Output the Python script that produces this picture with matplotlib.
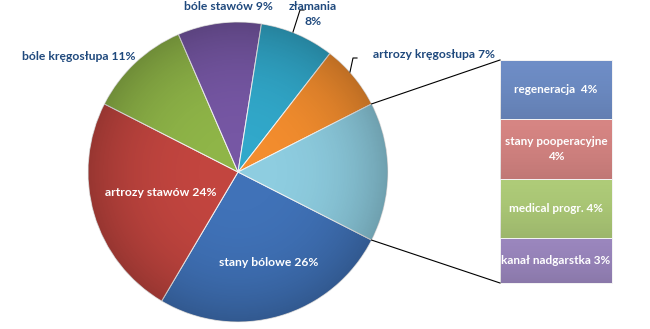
import numpy as np
import matplotlib
matplotlib.use("Agg")
import matplotlib.pyplot as plt
from matplotlib.patches import Circle

# main pie, clockwise from the "other" slice
pie_labels = ["stany bólowe", "artrozy stawów", "bóle kręgosłupa", "bóle stawów",
              "złamania", "artrozy kręgosłupa", "pozostałe"]
pie_values = [26, 24, 11, 9, 8, 7, 15]
pie_colors = ["#4072b8", "#c2453f", "#8fb548", "#7657a4", "#31a8ca", "#f38d2e", "#8ecde0"]

# breakdown bar, bottom to top
bar_labels = ["kanał nadgarstka 3%", "medical progr. 4%", "stany pooperacyjne\n4%", "regeneracja  4%"]
bar_values = [3, 4, 4, 4]
bar_colors = ["#9a86bd", "#aecb78", "#d68583", "#6e8dc6"]

W, H = 650, 329
fig = plt.figure(figsize=(W / 100, H / 100), dpi=100)
ax = fig.add_axes([0, 0, 1, 1])

cx, cy, r = 238, 157, 150
other_half = pie_values[-1] / sum(pie_values) * 180.0

wedges, _ = ax.pie(pie_values, colors=pie_colors, startangle=-other_half,
                   counterclock=False, center=(cx, cy), radius=r, frame=True,
                   wedgeprops=dict(edgecolor="#f4f4f4", linewidth=0.7))

# soft rim shading over the pie
yy, xx = np.mgrid[-1:1:300j, -1:1:300j]
rr = np.clip(np.hypot(xx, yy), 0, 1)
shade = np.zeros((300, 300, 4))
shade[..., 3] = 0.22 * rr ** 3
im = ax.imshow(shade, extent=[cx - r, cx + r, cy - r, cy + r], zorder=3,
               interpolation="bilinear")
im.set_clip_path(Circle((cx, cy), r, transform=ax.transData))

# breakdown column
bx, bw = 556, 112
unit = 223 / sum(bar_values)
bottoms = np.concatenate([[0], np.cumsum(bar_values)[:-1]]) * unit + 46
bars = ax.bar(bx, np.array(bar_values) * unit, width=bw, bottom=bottoms,
              color=bar_colors, edgecolor="#f4f4f4", linewidth=0.7)
vgrad = np.zeros((100, 2, 4))
vgrad[..., 3] = np.linspace(0, 0.22, 100)[:, None] ** 1.5
for rect in bars:
    x0, y0 = rect.get_x(), rect.get_y()
    g = ax.imshow(vgrad, extent=[x0, x0 + rect.get_width(), y0, y0 + rect.get_height()],
                  origin="upper", zorder=3, interpolation="bilinear")
    g.set_clip_path(rect)
for lab, b, v in zip(bar_labels, bottoms, bar_values):
    ax.text(bx, b + v * unit / 2, lab, ha="center", va="center", color="white",
            fontsize=8.5, fontweight="bold", family="Lato", linespacing=1.45, zorder=5)

# connector lines from the "other" slice to the column
bar_top = bottoms[-1] + bar_values[-1] * unit
for ang, yb in [(other_half, bar_top), (-other_half, 46)]:
    a = np.radians(ang)
    ax.plot([cx + r * np.cos(a), bx - bw / 2], [cy + r * np.sin(a), yb],
            color="black", linewidth=0.8, zorder=4)

# labels
navy = "#1f497d"
lab_kw = dict(ha="center", va="center", fontsize=8.7, fontweight="bold", family="Lato", zorder=5)
ax.text(228, H - 6, "bóle stawów 9%", color=navy, **lab_kw)
ax.text(313, H - 14, "złamania\n8%", color=navy, linespacing=1.45, **lab_kw)
ax.text(79, H - 57, "bóle kręgosłupa 11%", color=navy, **lab_kw)
ax.text(434, H - 55, "artrozy kręgosłupa 7%", color=navy, **lab_kw)
ax.text(161, H - 192, "artrozy stawów 24%", color="white", **lab_kw)
ax.text(269, H - 262, "stany bólowe 26%", color="white", **lab_kw)

# leader lines
ax.plot([293, 300, 304], [H - 32, H - 10, H - 10], color="black", linewidth=0.8, zorder=4)
ax.plot([350, 353, 357], [H - 72, H - 58, H - 58], color="black", linewidth=0.8, zorder=4)

ax.set_xlim(0, W)
ax.set_ylim(0, H)
ax.set_aspect("equal")
ax.axis("off")
fig.savefig("out.png", dpi=100)
